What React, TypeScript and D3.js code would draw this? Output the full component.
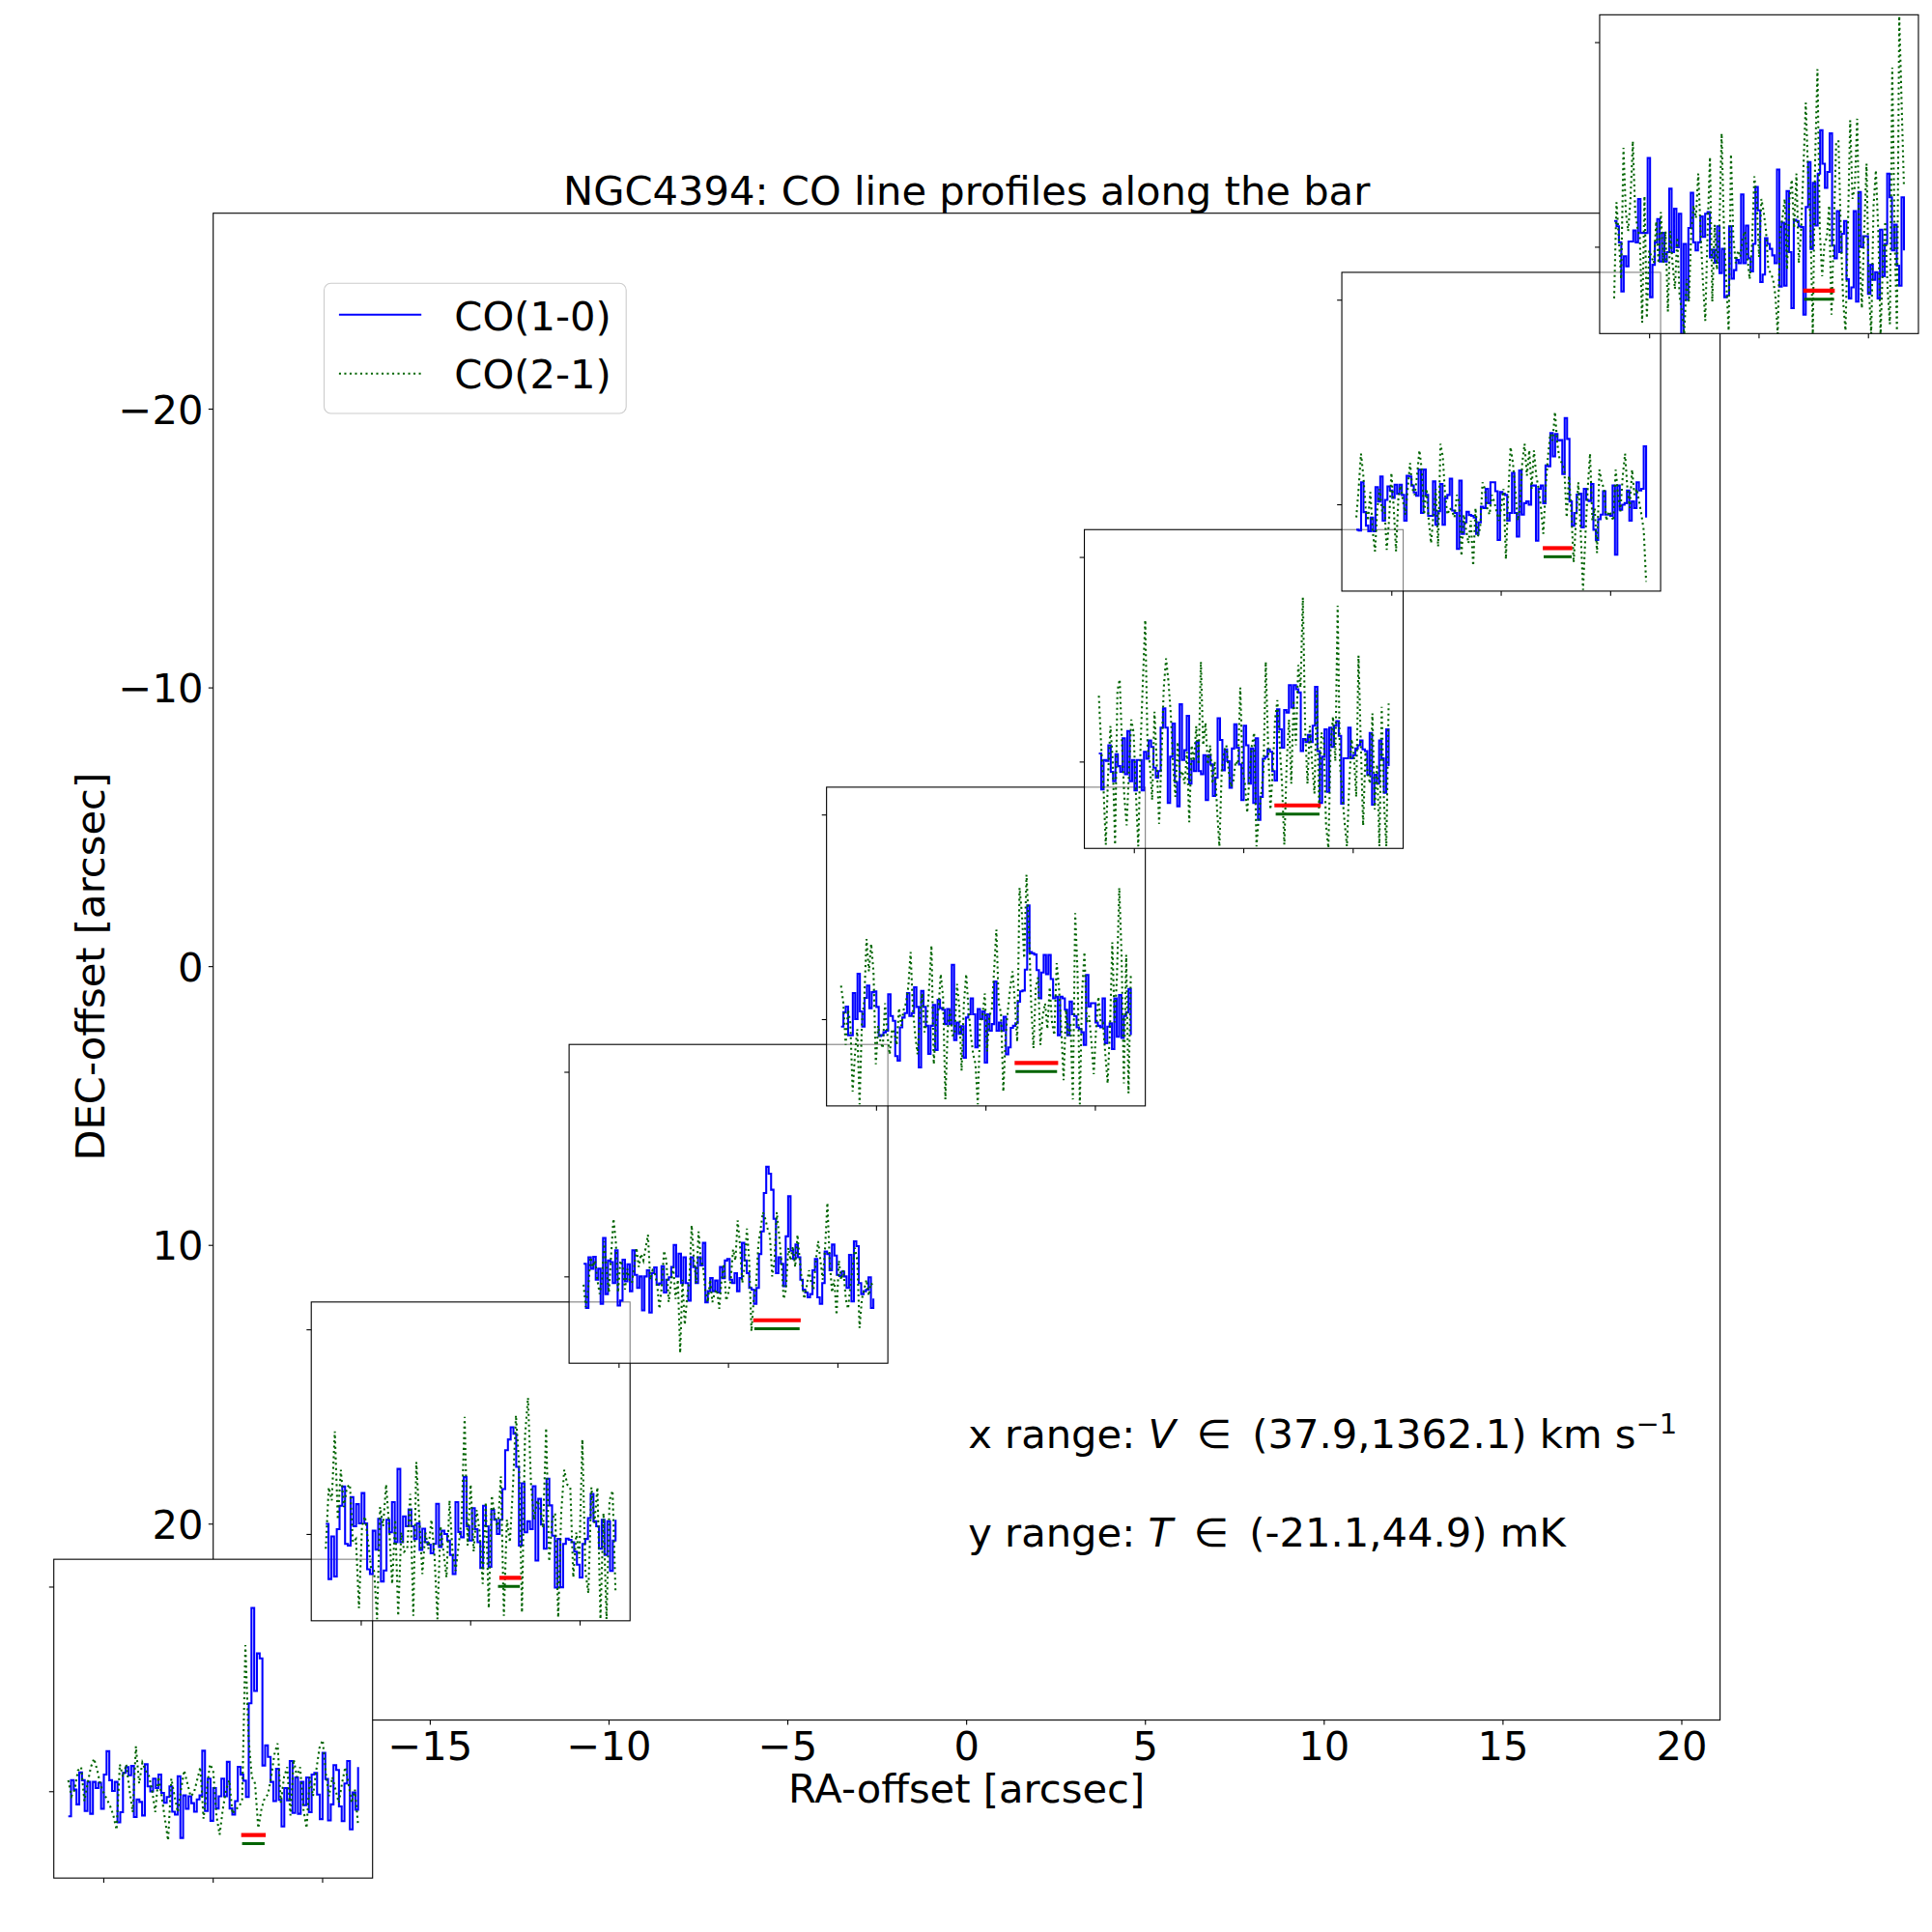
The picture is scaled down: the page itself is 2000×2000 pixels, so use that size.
import * as d3 from "d3";

// NGC4394 CO line profiles along the bar: seven spectra drawn as insets
// placed at their (RA, DEC) offsets on a common offset map.

const RA_OFFSETS = [-21.07, -13.87, -6.66, 0.54, 7.75, 14.95, 22.16];
const DEC_OFFSETS = [26.98, 17.75, 8.51, -0.72, -9.96, -19.19, -28.43];

const X_TICKS = [-20, -15, -10, -5, 0, 5, 10, 15, 20];
const Y_TICKS = [-20, -10, 0, 10, 20];

// velocity range of the spectra (km/s) and inset temperature limits (mK)
const V_RANGE = [37.9, 1362.1];
const T_LIMITS = [-21.1, 56.8];
const INSET_V_TICKS = [200, 700, 1200];
const INSET_T_TICKS = [0, 50];

// CO(1-0) spectra, mK, equally spaced channels over V_RANGE
const co10_1 = [-6.0, 2.8, 0.5, -3.1, 4.7, 2.8, -4.7, 2.4, -5.4, 2.4, 0.9, 2.2, -4.2, 4.2, 9.9, 2.8, 0.2, 2.4, -7.5, -5.0, 4.6, 6.0, 4.0, 6.3, -6.2, -1.9, -2.5, -5.8, 6.7, 1.3, 0.1, 3.2, 0.9, 4.2, -0.3, -2.7, -1.3, 1.3, -4.9, -5.6, 3.8, -11.3, -0.9, -4.2, -1.1, -2.8, -4.9, -1.9, -0.9, 10.0, -4.7, 3.2, -7.1, 0.9, -4.1, -1.1, 3.2, -1.1, 7.3, -4.1, -5.6, -2.3, 6.1, 4.2, 2.7, -1.3, 21.6, 44.9, 24.6, 33.8, 32.6, 6.4, 11.3, 8.5, 2.4, -2.3, 5.6, -2.0, -8.5, 0.9, -2.1, 7.5, -5.2, 3.5, -5.4, 2.4, -3.3, 3.5, -5.0, 4.2, 4.6, -0.7, -6.7, 9.5, 3.1, -7.0, -3.1, 6.5, 5.3, -3.6, -7.2, 2.0, 7.5, -9.2, -0.2, -4.4, 6.0];
const co10_2 = [2.6, -10.9, -0.5, -10.3, 1.3, 7.0, 11.7, -2.3, -2.7, 9.1, 2.0, 7.4, 2.7, 10.1, 2.7, -8.5, -9.7, 0.9, -3.7, 3.8, -11.5, -8.8, 3.6, 0.5, 7.9, -1.9, 16.0, -1.9, 4.4, 2.0, 6.1, 2.0, -1.1, 2.7, -3.8, 1.4, -1.9, -2.5, -4.6, -2.3, 7.5, -3.1, 0.9, 0.1, -1.5, -5.0, -9.7, 7.9, 0.6, -0.7, 14.0, 2.0, -1.5, 6.4, 1.3, -1.9, -8.2, 7.0, 2.0, -7.9, 6.0, 3.6, 0.1, 3.6, 11.1, 20.6, 23.2, 26.2, 24.6, 16.5, -2.7, 12.5, 0.5, 3.2, 1.3, 11.8, -6.4, 8.7, 2.4, -3.5, 13.6, 7.1, -0.3, -13.0, -1.1, -12.9, -2.3, -1.0, -1.3, -1.9, -4.2, -7.4, -10.5, -2.3, -1.1, 4.0, 9.9, 3.2, 2.0, -3.5, 3.6, -5.0, 3.2, -8.9, -1.5, 3.6];
const co10_3 = [3.2, -7.6, 4.8, 2.0, 4.9, -0.7, 2.0, -6.6, 9.5, -4.2, 4.0, 3.6, -1.5, 6.5, -7.0, -5.8, 4.2, -1.1, 3.1, -3.5, 6.5, 0.5, -2.7, 0.1, -8.2, 0.1, 1.6, -8.7, 0.9, 2.3, -1.9, -1.6, 2.6, -3.8, -0.7, -0.1, 2.4, 7.8, 0.1, 5.7, -1.5, 4.8, -1.5, -5.8, 4.8, 2.4, -1.5, 4.8, 2.8, 8.3, -6.2, -3.5, -0.3, -3.5, -0.9, -3.8, 2.4, -0.3, 4.0, 4.4, -0.7, -1.5, 0.9, -3.5, -0.3, 8.3, 4.0, 0.9, -2.7, -3.1, -6.6, -2.7, 5.6, 11.1, 20.5, 26.9, 25.2, 21.3, 14.2, 0.9, 4.8, 3.2, -2.3, 9.9, 19.7, 6.4, 4.4, 7.9, 4.8, -0.7, -3.1, -3.8, -5.0, -4.2, 1.6, 4.4, -5.0, -6.6, -1.5, 6.2, 5.6, 1.6, 7.9, 5.2, 0.5, 0.2, 1.3, 0.1, -2.7, 5.4, -6.0, 8.7, 7.5, -1.5, -4.2, -3.5, -3.1, -0.1, -7.6, -5.3];
const co10_4 = [-1.7, 1.8, 3.2, -3.8, -3.8, 6.5, 0.1, 11.2, 2.0, -1.7, 5.3, 8.3, 2.8, 6.7, 6.9, 3.1, -4.0, -3.8, -3.1, -2.7, 6.2, 0.9, -0.3, -8.9, -10.0, -1.9, 0.5, 1.6, 6.5, 0.9, 1.6, 7.9, 3.1, -11.7, 7.0, 3.1, -1.5, -8.4, -1.5, 3.6, -7.4, 4.8, 2.8, 2.4, -1.1, 2.6, -1.1, 13.4, -5.0, -0.7, -3.5, -1.6, -9.3, 0.5, 1.3, 5.2, 1.3, -6.8, 2.6, 0.1, 2.0, -10.5, 1.3, -2.7, -1.1, 9.3, -2.7, -0.7, -2.7, 0.7, -8.5, -6.8, -2.0, -1.5, -0.9, 4.4, 6.9, 7.1, 12.2, 27.9, 16.5, 16.2, 15.9, 12.1, 5.2, 11.5, 15.8, 11.1, 15.8, 9.9, 5.2, 5.6, -3.8, 5.6, 5.2, 2.4, -3.8, 4.4, 1.3, 0.9, -1.9, -2.3, -3.1, -6.2, 10.9, 3.2, 4.0, 4.0, -0.7, -1.5, -1.9, 5.2, -5.8, -1.7, -0.9, -7.2, 5.2, -4.2, 6.0, -4.5, 0.9, 1.8, 7.5, -3.8];
const co10_5 = [2.1, -6.7, 0.5, 0.3, 4.1, -2.4, -4.7, 1.9, -1.0, -2.4, 5.8, -3.0, 7.6, -4.7, 0.5, -6.9, 0.5, 0.5, -6.9, 2.5, 0.8, 5.3, 3.7, -1.4, -3.8, -2.2, 8.4, 13.1, 8.4, -10.0, 1.3, 9.4, -4.9, -10.8, 14.1, 0.5, 2.9, 11.3, -5.3, 0.3, -2.2, 4.9, -2.2, -3.0, 1.7, -9.3, 1.7, -0.6, -8.3, -3.8, 10.7, 5.4, -2.0, 3.1, 0.2, -6.3, 3.3, 9.2, 3.5, -0.6, -9.3, 8.9, 4.1, -5.3, 3.3, -10.0, 5.8, -14.1, -8.5, 0.8, 1.3, 3.1, 2.5, -2.2, -4.5, 12.9, 8.0, 3.5, 12.7, 12.1, 18.8, 13.3, 18.8, 17.8, 17.0, 2.7, 5.6, 4.9, 6.6, 4.9, 8.9, 18.4, 2.7, -10.0, 1.3, 8.0, -7.3, 8.4, 3.7, 8.9, 10.0, 6.4, -10.2, 0.9, 0.9, 8.4, 0.9, 1.7, 3.3, 4.1, 5.3, 3.1, 2.7, -3.1, 7.1, -10.4, -3.1, -5.3, 5.3, 0.9, -7.5, 8.0, -1.0];
const co10_6 = [-6.1, -6.3, 5.5, -1.8, -5.1, -6.5, -3.1, -6.5, 4.3, 0.8, 6.9, -3.9, 1.2, 4.5, 3.5, 1.7, 4.9, 2.7, 4.9, 2.4, -3.9, 7.1, 6.9, 4.7, 3.0, 2.2, 8.6, -2.0, 8.6, 2.4, -2.7, -2.7, 5.7, -4.9, -1.6, 5.1, -4.9, 1.6, 2.4, 6.4, -1.4, -2.0, -10.8, 5.9, -7.1, -4.3, -1.7, -2.5, -2.7, -3.1, -7.1, -4.3, -0.5, -0.8, 3.9, 0.4, 5.5, 5.5, 3.3, -8.6, 3.1, 2.7, 2.4, -3.9, -2.0, 7.8, -2.0, -7.8, 8.4, -2.4, 0.4, 0.8, 0.0, 4.7, 4.7, -8.8, 3.9, 4.7, 0.4, 9.6, 9.4, 17.5, 11.8, 17.3, 15.7, 15.8, 7.5, 21.2, 16.1, 0.8, -5.1, -2.0, 2.5, 2.7, -5.5, 3.9, 1.2, 0.9, 5.1, -6.1, -8.6, -3.5, -2.4, 3.3, -2.4, -2.4, -2.7, 4.7, -12.2, 4.7, -1.2, 0.0, 0.4, 3.5, -3.9, 0.8, -0.8, 5.5, 3.5, 3.9, 14.3, -3.1];
const co10_7 = [6.4, 5.1, 1.2, -10.8, -2.2, -4.7, 1.4, 1.4, 4.1, 1.2, 11.8, 3.5, 3.5, 3.5, 21.8, -12.2, -4.3, 1.2, 6.9, -3.5, 3.5, -3.5, -1.2, 14.3, -1.2, 9.4, 0.0, 8.2, -21.2, 0.8, -12.9, 4.7, 13.3, 1.2, -0.8, 1.2, 7.5, 2.5, 8.2, 8.6, -2.5, -0.6, -3.8, 5.1, -6.3, -0.4, -12.2, -11.8, 5.1, -7.7, -5.6, -3.1, -3.9, 12.9, -3.9, 5.3, -2.7, -5.9, 0.8, 14.7, 9.0, -8.5, -6.7, 2.2, 0.8, -0.4, -2.0, -3.9, 19.0, -9.6, 6.0, -9.4, 13.7, -1.2, -14.9, 6.7, 6.4, 5.1, 4.9, -16.5, 9.8, 20.8, -0.4, 15.7, 5.3, 18.0, 28.6, 20.4, 14.5, 18.4, 27.8, 0.4, -2.7, 8.8, -1.2, 3.3, 6.4, -7.8, -12.5, -9.8, 8.8, -13.3, 13.5, 0.0, 2.7, 2.7, -11.4, -4.3, -8.0, -6.1, -12.5, 4.3, -7.1, 0.8, 18.0, 12.2, -0.8, 5.5, -4.5, -9.4, 12.2, -0.8];

// CO(2-1) spectra, mK
const co21_1 = [2.8, -1.1, 0.5, 5.2, 6.0, -2.3, 2.0, 6.0, 8.1, 5.2, 1.6, -0.3, -1.9, -3.5, -5.8, -9.3, 6.7, 3.6, 6.7, 0.5, -5.0, 11.1, 2.0, 7.1, 5.2, 4.0, 0.5, -5.0, 3.6, -1.1, -6.6, -11.9, 3.2, -1.1, -5.0, 0.5, 5.2, 2.0, -1.1, -0.3, 2.8, 6.0, -6.6, 0.5, 6.7, 5.2, -5.8, -10.5, -4.2, 0.5, 2.8, -5.4, -4.2, -3.8, -1.9, 35.8, 13.0, 3.6, 2.0, -8.9, -4.2, -1.5, -0.7, 3.6, 9.1, 11.8, -2.7, 3.6, 6.0, -5.8, 7.9, 3.6, 6.0, -4.2, -8.9, 3.6, -1.1, 5.2, 10.7, 12.6, 4.4, -1.1, 3.6, 0.5, -2.7, 2.0, 6.0, 2.0, -2.7, 0.5, -8.2];
const co21_2 = [-3.5, 11.5, 8.3, 25.2, 3.6, 15.8, 6.7, 11.5, 12.2, -1.9, -1.1, -18.0, 2.0, 4.4, -1.5, -8.2, -8.9, -20.7, 6.7, 2.0, 12.2, 2.0, -12.1, 3.6, -19.9, 0.5, -4.2, -3.5, 9.9, -19.9, 17.7, 3.6, -9.7, 0.5, -3.5, 3.6, -5.0, -20.7, 2.0, -4.2, -10.5, 8.3, -4.2, -8.9, -2.7, 3.6, 28.7, -2.7, 12.2, -4.2, 6.0, 0.5, -12.1, 7.9, -18.0, 9.5, 4.4, 1.3, 14.2, -19.9, 3.6, -1.9, 11.5, 29.1, 17.7, -19.1, 24.0, 33.4, 12.2, 3.6, 8.3, 6.7, 1.6, 26.0, -6.6, 3.6, 5.2, -20.3, 5.2, 15.8, 12.2, 11.5, -10.5, 0.5, -5.8, 23.2, -8.9, -14.4, 11.5, 2.8, 11.5, -20.7, 5.2, -20.7, 8.3, 10.7, -14.4];
const co21_3 = [-1.9, -7.4, -3.1, 4.8, 2.4, 4.0, -0.7, -4.2, -0.7, 8.7, 1.6, -3.8, 5.6, 14.2, 8.7, -3.8, 4.0, 2.4, -3.1, 2.0, -0.7, -1.5, 2.4, 7.1, 2.4, 5.6, 4.0, 7.1, 10.3, -0.7, 1.6, 0.9, -1.9, -7.8, -2.3, 6.4, 4.0, -6.2, -1.5, 2.4, -5.4, -0.7, -18.6, -0.7, -11.7, -5.0, -0.7, 12.6, 4.0, -1.5, 11.1, 4.0, 2.4, -3.8, -6.2, -0.7, -6.2, -3.8, -3.1, -7.8, -0.7, 3.2, -5.8, -3.8, -0.7, 6.7, 4.0, 13.8, 7.9, -1.5, 2.4, 11.8, 4.0, -13.3, -5.4, -2.3, 7.9, 11.8, 15.8, 14.2, 11.8, 10.3, 0.1, 4.0, 15.8, 10.3, 4.0, -5.4, -3.1, 7.1, 4.0, 7.5, 2.4, 10.3, 4.0, -1.5, -5.4, -2.3, 1.6, -1.5, -3.1, 4.0, 8.7, 4.0, -0.7, 7.1, 18.1, 4.0, -3.8, -0.7, -9.3, 4.0, -0.7, 1.6, -5.4, -7.8, -2.3, 2.4, 7.1, 4.0, -12.5, -5.4, -3.1, -0.7, -4.6, -1.5, -2.3];
const co21_4 = [8.3, 4.0, -6.2, 2.4, -0.7, -17.6, -8.5, -2.3, -20.7, -0.7, 4.8, 19.7, 11.8, 18.5, 11.8, -10.9, -1.5, -5.4, -7.0, 4.0, -3.8, -8.5, -2.3, -3.1, -6.2, 2.8, -1.5, 2.4, 4.0, 7.9, 16.5, 2.4, -3.8, -8.5, 0.9, 6.4, -3.1, -0.7, 7.9, 18.1, -10.9, -0.7, 2.4, 11.1, 5.6, -19.5, -2.3, 2.4, -3.8, -3.8, 8.7, 3.2, -12.5, 4.0, 11.1, 2.4, -3.8, -8.5, -10.9, -20.7, -0.7, 0.9, 6.4, -7.8, 0.9, 2.4, 11.8, 22.0, 4.0, 1.6, -17.6, -3.8, 2.4, 7.9, 11.8, 4.0, -5.4, 32.2, 26.0, 15.0, 35.4, 22.8, 4.0, -7.0, 7.9, 10.3, -6.2, 0.9, 4.0, -2.3, 7.9, -0.7, -3.8, 13.8, 7.9, -2.3, -14.8, 2.4, -3.8, -0.7, -19.5, 26.0, 11.8, -20.7, 7.1, 16.5, -0.7, 0.9, -5.4, -13.3, -2.3, 5.6, -0.7, -0.7, -8.5, -15.6, -2.3, 18.9, -0.7, 10.3, 32.2, 15.8, -15.6, 15.8, -18.0, 11.1];
const co21_5 = [16.2, 4.1, -6.1, -20.2, -3.0, 8.8, 0.2, -20.2, 17.4, 20.2, 4.1, -8.5, -15.5, -2.2, 10.4, 7.2, -7.7, -20.6, 4.1, 19.8, 34.7, 4.1, -0.6, -9.3, 12.3, -0.6, -15.1, 0.9, 18.2, 25.3, 19.8, 11.9, -0.6, -8.5, 4.9, -3.8, -2.2, -5.3, 2.5, -14.7, 4.1, 0.2, 8.8, -0.6, 24.5, 4.1, 9.6, -0.6, 4.1, -5.3, 0.2, -11.6, -20.6, -2.2, 2.5, 4.1, -2.2, -6.1, -4.5, 0.2, -0.6, 18.2, -2.2, -5.3, -12.4, -3.0, 4.1, 7.2, -20.6, -13.2, -7.7, -2.2, 24.5, 4.1, -11.6, -2.2, 10.4, 15.1, 4.1, -5.3, -20.2, -0.6, 10.4, -5.3, 15.1, 4.1, 23.7, 18.2, 40.2, 8.0, -5.3, 8.8, -0.6, -7.7, 17.4, -11.6, 7.2, 5.6, -15.5, -21.0, 4.1, 11.1, 0.2, 38.2, -0.6, -7.7, -14.7, -20.6, -5.3, 5.6, 1.7, -8.5, 26.0, 4.1, -15.5, 2.5, -3.0, -5.3, 11.9, -11.6, -0.6, -20.6, 13.5, -10.0, -20.6, 14.3];
const co21_6 = [-3.1, 3.9, 12.5, 7.1, -0.8, -3.9, 3.1, -6.3, -11.4, -0.8, 3.9, -1.6, 0.0, -11.0, -3.9, 7.8, -0.8, -11.4, 1.6, 4.7, 0.8, -2.4, 3.9, 10.2, 3.9, 2.4, 7.1, 13.3, 8.6, -2.4, 3.9, -3.9, -9.4, -2.4, 3.9, -10.2, 14.9, 11.8, 2.4, -2.4, -0.8, -1.6, -3.1, 2.4, 0.8, -12.5, -2.4, -6.3, -9.4, -3.9, -14.9, -0.8, -7.8, -5.5, 5.5, 3.9, -0.8, -2.4, 2.4, 0.8, -1.6, -3.9, -0.8, 3.9, -13.3, 2.4, 14.1, 10.2, 3.9, -3.9, -0.8, 10.2, 14.9, 7.1, 13.3, 3.9, 13.3, 7.1, 3.9, -0.8, -7.1, 3.9, 11.8, 17.3, 15.7, 22.7, 14.9, 11.0, 10.2, 8.6, -3.1, 7.1, -1.6, -14.1, -3.9, 5.5, -6.3, -20.8, -7.8, 3.9, 12.5, -3.9, -0.8, -11.8, 8.6, 5.5, 3.9, -3.9, -1.6, -2.4, -3.9, 8.6, 2.4, -1.6, 7.1, 12.5, 3.9, -0.8, 8.6, 2.4, 3.9, 0.8, -2.4, -6.3, -18.8];
const co21_7 = [-12.5, 11.0, 2.4, -7.8, 24.3, 8.6, 3.9, 11.8, 25.9, 8.6, 4.7, 2.4, -18.4, 12.5, -17.3, -0.8, -2.4, -3.9, 6.3, -3.9, 8.6, -3.9, 3.9, -15.7, 3.9, -3.9, -10.2, 2.4, -11.8, -15.7, -21.2, -7.8, -13.3, 3.9, 10.2, 7.1, 18.0, 3.9, -8.6, -18.0, 3.9, 22.0, -13.3, 5.5, -5.5, 3.9, 27.8, 3.9, -8.6, -20.4, 22.7, 2.4, -3.9, -0.8, -2.4, 2.4, 3.9, -2.4, -7.8, 0.8, 17.3, 11.8, -2.4, 11.8, 8.6, 3.9, -5.5, -6.3, -7.8, -11.8, -21.2, 3.9, 7.1, 11.8, -5.5, 11.8, 16.5, 4.7, 18.0, -3.9, 3.9, 19.6, 35.3, 18.0, 5.5, -21.2, 21.2, 43.5, 3.9, -7.1, 0.8, 2.4, 10.2, -16.5, 3.9, 25.9, 25.9, 3.9, -13.3, -20.4, 3.9, 31.0, 11.8, 14.9, 31.4, -1.6, -14.9, 3.9, 20.4, -10.2, -21.2, 10.2, 18.8, 3.9, -21.2, -3.9, 6.3, -10.2, -18.8, 43.9, 3.9, -20.4, 56.5, 35.3, 14.9];

const CO10 = [co10_1, co10_2, co10_3, co10_4, co10_5, co10_6, co10_7];
const CO21 = [co21_1, co21_2, co21_3, co21_4, co21_5, co21_6, co21_7];

// velocity windows marked under each spectrum (km/s)
const RED_WINDOWS = [[828, 940], [831, 931], [813, 1030], [831, 1030], [840, 1052], [890, 1025], [902, 1046]];
const GREEN_WINDOWS = [[832, 935], [825, 925], [818, 1025], [835, 1025], [846, 1046], [894, 1022], [906, 1043]];
const RED_LEVEL = -10.6;
const GREEN_LEVEL = -12.7;

const FONT = "DejaVu Sans";
const FS = 41.67;
const BLUE = "#0000ff";
const DKGREEN = "#006400";

type Pt = [number, number];

function channels(vals: number[]): Pt[] {
  const [v0, v1] = V_RANGE;
  return vals.map((t, i) => [v0 + (i * (v1 - v0)) / (vals.length - 1), t]);
}

const fmt = (d: number) => (d < 0 ? `\u2212${Math.abs(d)}` : `${d}`);

export default function App() {
  const W = 2000;
  const H = 2000;
  const left = 220.7;
  const right = 1780.6;
  const top = 220.7;
  const bottom = 1780.6;

  const x = d3.scaleLinear().domain([-21.07, 21.07]).range([left, right]);
  const y = d3.scaleLinear().domain([-27.03, 27.03]).range([top, bottom]);

  const S = 330;
  const vPad = (V_RANGE[1] - V_RANGE[0]) * 0.05;
  const vx = d3.scaleLinear().domain([V_RANGE[0] - vPad, V_RANGE[1] + vPad]).range([0, S]);
  const ty = d3.scaleLinear().domain(T_LIMITS).range([S, 0]);

  const blueLine = d3
    .line<Pt>()
    .x((d) => vx(d[0]))
    .y((d) => ty(d[1]))
    .curve(d3.curveStepAfter);
  const greenLine = d3
    .line<Pt>()
    .x((d) => vx(d[0]))
    .y((d) => ty(d[1]));

  const insets = RA_OFFSETS.map((ra, i) => ({
    x0: x(ra) - S / 2,
    y0: y(DEC_OFFSETS[i]) - S / 2,
  }));

  return (
    <svg
      width={W}
      height={H}
      viewBox={`0 0 ${W} ${H}`}
      style={{ position: "absolute", left: 0, top: 0, background: "#fff" }}
      fontFamily={FONT}
    >
      <rect width={W} height={H} fill="#fff" />

      {/* main offset axes */}
      <text x={(left + right) / 2} y={top - 8.3} fontSize={FS} textAnchor="middle">
        NGC4394: CO line profiles along the bar
      </text>
      <rect x={left} y={top} width={right - left} height={bottom - top} fill="none" stroke="#000" strokeWidth={1.1} />
      {X_TICKS.map((t) => (
        <g key={`xt${t}`}>
          <line x1={x(t)} x2={x(t)} y1={bottom} y2={bottom + 4.9} stroke="#000" strokeWidth={1.1} />
          <text x={x(t)} y={1821.7} fontSize={FS} textAnchor="middle">
            {fmt(t)}
          </text>
        </g>
      ))}
      {Y_TICKS.map((t) => (
        <g key={`yt${t}`}>
          <line x1={left - 4.9} x2={left} y1={y(t)} y2={y(t)} stroke="#000" strokeWidth={1.1} />
          <text x={left - 10.2} y={y(t) + 15} fontSize={FS} textAnchor="end">
            {fmt(t)}
          </text>
        </g>
      ))}
      <text x={(left + right) / 2} y={1866} fontSize={FS} textAnchor="middle">
        RA-offset [arcsec]
      </text>
      <text transform={`translate(107.6,${(top + bottom) / 2}) rotate(-90)`} fontSize={FS} textAnchor="middle">
        DEC-offset [arcsec]
      </text>

      {/* legend */}
      <rect x={335.5} y={293.3} width={312.7} height={134.7} rx={7} fill="#fff" fillOpacity={0.8} stroke="#cccccc" strokeWidth={1.1} />
      <line x1={350.9} x2={436.2} y1={325.7} y2={325.7} stroke={BLUE} strokeWidth={2.08} />
      <text x={470.3} y={341.7} fontSize={FS}>
        CO(1-0)
      </text>
      <line x1={350.9} x2={436.2} y1={386.7} y2={386.7} stroke={DKGREEN} strokeWidth={2.08} strokeDasharray="2.08 3.43" />
      <text x={470.3} y={401.7} fontSize={FS}>
        CO(2-1)
      </text>

      {/* range annotations */}
      <text x={x(0) + 1.5} y={y(17.27)} fontSize={FS}>
        {"x range: "}
        <tspan fontStyle="italic">V</tspan>
        {" \u2009\u2208\u2009 (37.9,1362.1) km s"}
        <tspan dy={-15} fontSize={29}>
          {"\u22121"}
        </tspan>
      </text>
      <text x={x(0) + 1.5} y={y(20.8)} fontSize={FS}>
        {"y range: "}
        <tspan fontStyle="italic">T</tspan>
        {" \u2009\u2208\u2009 (-21.1,44.9) mK"}
      </text>

      <defs>
        <clipPath id="inset-clip">
          <rect x={0} y={0} width={S} height={S} />
        </clipPath>
      </defs>

      {/* insets hide the main frame underneath them */}
      {insets.map((p, i) => (
        <rect key={`bg${i}`} x={p.x0} y={p.y0} width={S} height={S} fill="#fff" />
      ))}

      {insets.map((p, i) => (
        <g key={`in${i}`} transform={`translate(${p.x0},${p.y0})`}>
          <rect width={S} height={S} fill="#fff" fillOpacity={0.5} />
          <g clipPath="url(#inset-clip)">
            <path d={blueLine(channels(CO10[i])) ?? ""} fill="none" stroke={BLUE} strokeWidth={2.08} />
            <path
              d={greenLine(channels(CO21[i])) ?? ""}
              fill="none"
              stroke={DKGREEN}
              strokeWidth={2.08}
              strokeDasharray="2.08 3.43"
            />
            <line
              x1={vx(RED_WINDOWS[i][0])}
              x2={vx(RED_WINDOWS[i][1])}
              y1={ty(RED_LEVEL)}
              y2={ty(RED_LEVEL)}
              stroke="#ff0000"
              strokeWidth={4.2}
            />
            <line
              x1={vx(GREEN_WINDOWS[i][0])}
              x2={vx(GREEN_WINDOWS[i][1])}
              y1={ty(GREEN_LEVEL)}
              y2={ty(GREEN_LEVEL)}
              stroke={DKGREEN}
              strokeWidth={3}
            />
          </g>
          <rect width={S} height={S} fill="none" stroke="#000" strokeWidth={1.1} />
          {INSET_V_TICKS.map((v) => (
            <line key={`v${v}`} x1={vx(v)} x2={vx(v)} y1={S} y2={S + 4.9} stroke="#000" strokeWidth={1.1} />
          ))}
          {INSET_T_TICKS.map((t) => (
            <line key={`t${t}`} x1={-4.9} x2={0} y1={ty(t)} y2={ty(t)} stroke="#000" strokeWidth={1.1} />
          ))}
        </g>
      ))}
    </svg>
  );
}
